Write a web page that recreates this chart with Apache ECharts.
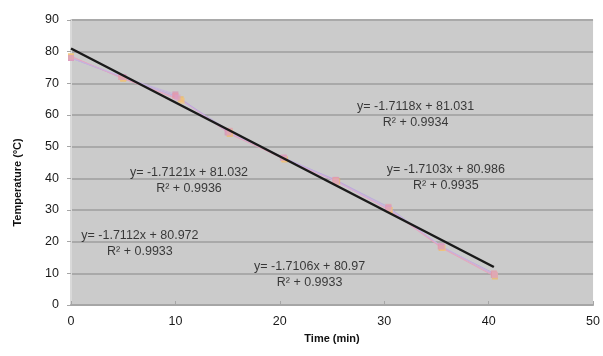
<!DOCTYPE html>
<html>
<head>
<meta charset="utf-8">
<script src="https://cdn.jsdelivr.net/npm/echarts@6/dist/echarts.min.js"></script>
<style>
html,body{margin:0;padding:0;background:#fff;}
#c{width:603px;height:356px;}
</style>
</head>
<body>
<div id="c"></div>
<script>
// ---- data ----
var trial1Time = [0, 5, 10, 15, 20.3, 25.4, 30.4, 35.5, 40.5];
var trial1Temp = [78, 72, 66.5, 54.5, 46.5, 39.5, 30.5, 18.5, 9.5];
var trial2Time = [0, 5, 10.5, 15.2, 20.5, 25.5, 30.5, 35.5, 40.6];
var trial2Temp = [78.5, 71.5, 65, 54, 46, 39, 30, 18, 9];
var trial3Time = [0, 4.8, 10, 15.2, 20.4, 25.3, 30.4, 35.4, 40.5];
var trial3Temp = [78, 72, 66, 55, 46.5, 39.5, 31, 18.5, 10];
var trial4Time = [0, 5, 10.6, 15.2, 20.4, 25.4, 30.5, 35.6, 40.6];
var trial4Temp = [78.5, 71.5, 64.5, 54.5, 46, 39, 30, 18, 9.5];
var trial5Time = [0, 5, 10.2, 15.1, 20.4, 25.4, 30.4, 35.5, 40.6];
var trial5Temp = [78, 72, 65.5, 54.5, 46.5, 39, 30.5, 18.5, 9.5];

var trendTime = [0, 40.5];
var trendTemp = [81, 12];

var equations = [
  'y= -1.7118x + 81.031\nR\u00b2 + 0.9934',
  'y= -1.7103x + 80.986\nR\u00b2 + 0.9935',
  'y= -1.7121x + 81.032\nR\u00b2 + 0.9936',
  'y= -1.7112x + 80.972\nR\u00b2 + 0.9933',
  'y= -1.7106x + 80.97\nR\u00b2 + 0.9933'
];
var eqTime = [33.0, 35.9, 11.3, 6.6, 22.85];
var eqTemp = [60.0, 40.1, 39.2, 19.3, 9.6];

var xTicks = [0, 10, 20, 30, 40, 50];
var yTicks = [0, 10, 20, 30, 40, 50, 60, 70, 80, 90];

// ---- build ----
function pairs(xs, ys) { return xs.map(function (x, i) { return [x, ys[i]]; }); }
var trials = [
  [trial1Time, trial1Temp, '#d98fb0', '#c4b0e0'],
  [trial2Time, trial2Temp, '#f0b860', '#e9a0b8'],
  [trial3Time, trial3Temp, '#e79aa8', '#b9a8dc'],
  [trial4Time, trial4Temp, '#f2c47a', '#e6a6c0'],
  [trial5Time, trial5Temp, '#d9a0c8', '#c8b4e0']
];
var font = '"Liberation Sans", Arial, sans-serif';
var series = trials.map(function (t, i) {
  return {
    type: 'line',
    name: 'Trial ' + (i + 1),
    data: pairs(t[0], t[1]),
    symbol: 'rect',
    symbolSize: 6,
    showSymbol: true,
    lineStyle: { width: 1, color: t[3], opacity: 0.85 },
    itemStyle: { color: t[2], opacity: 0.7 },
    z: 2
  };
});
series.push({
  type: 'line',
  name: 'Trend',
  data: pairs(trendTime, trendTemp),
  symbol: 'none',
  lineStyle: { width: 2.5, color: '#1a1a1a' },
  z: 5
});
series.push({
  type: 'scatter',
  name: 'Equations',
  data: eqTime.map(function (x, i) { return { value: [x, eqTemp[i]], label: { formatter: equations[i] } }; }),
  symbolSize: 0,
  label: {
    show: true,
    position: 'inside',
    align: 'center',
    verticalAlign: 'middle',
    color: '#111',
    fontSize: 12.5,
    lineHeight: 16,
    fontFamily: font
  },
  z: 6,
  silent: true
});

var chart = echarts.init(document.getElementById('c'));
chart.setOption({
  animation: false,
  backgroundColor: '#ffffff',
  grid: {
    left: 71, right: 8, top: 20, bottom: 51,
    show: true, backgroundColor: '#cbcbcb', borderWidth: 0
  },
  xAxis: {
    type: 'value',
    min: xTicks[0], max: xTicks[xTicks.length - 1], interval: 10,
    name: 'Time (min)',
    nameLocation: 'middle',
    nameGap: 28,
    nameTextStyle: { fontFamily: font, fontWeight: 'bold', fontSize: 11, color: '#111' },
    axisLine: { show: true, lineStyle: { color: '#a6a6a6', width: 2 } },
    axisTick: { show: true, inside: true, length: 4, lineStyle: { color: '#a6a6a6' } },
    axisLabel: { fontFamily: font, fontSize: 12.5, color: '#1a1a1a', margin: 10 },
    splitLine: { show: false }
  },
  yAxis: {
    type: 'value',
    min: yTicks[0], max: yTicks[yTicks.length - 1], interval: 10,
    name: 'Temperature (\u00baC)',
    nameLocation: 'middle',
    nameGap: 48,
    nameTextStyle: { fontFamily: font, fontWeight: 'bold', fontSize: 11, color: '#111', padding: [0, 40, 0, 0] },
    axisLine: { show: true, lineStyle: { color: '#d9d9d9', width: 2 } },
    axisTick: { show: true, inside: false, length: 4, lineStyle: { color: '#a6a6a6' } },
    axisLabel: { fontFamily: font, fontSize: 12.5, color: '#1a1a1a', margin: 12 },
    splitLine: { show: true, lineStyle: { color: '#a9a9a9', width: 2 } }
  },
  series: series
});
</script>
</body>
</html>
